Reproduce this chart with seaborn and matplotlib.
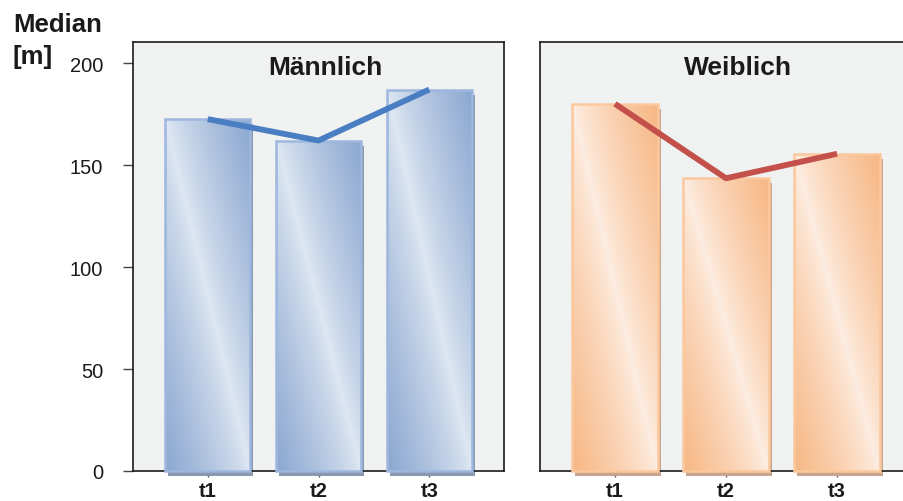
import numpy as np
import pandas as pd
import matplotlib
matplotlib.use("Agg")
import matplotlib.pyplot as plt
import matplotlib.transforms as mtransforms
from matplotlib.patches import Rectangle
import seaborn as sns

# Median distance per measurement time, split by sex
periods = ["t1", "t2", "t3"]
male_median = [172.5, 162, 187]
female_median = [180, 143.5, 155.5]
panel_titles = ["Männlich", "Weiblich"]
y_ticks = [0, 50, 100, 150, 200]

sns.set_theme(style="white")
plt.rcParams["font.family"] = ["Liberation Sans", "DejaVu Sans"]

W, H = 904, 502
fig = plt.figure(figsize=(W / 100, H / 100), dpi=100)
ax_m = fig.add_axes([133 / W, 30 / H, 371 / W, 429 / H])
ax_f = fig.add_axes([540 / W, 30 / H, 372 / W, 429 / H])

panels = [
    dict(ax=ax_m, values=male_median, title=panel_titles[0], title_x=1.06,
         light=(0.875, 0.910, 0.953), dark=(0.545, 0.655, 0.816),
         edge="#9db7de", shadow="#8a98ae", line="#4a7ec2"),
    dict(ax=ax_f, values=female_median, title=panel_titles[1], title_x=1.11,
         light=(0.992, 0.930, 0.885), dark=(0.969, 0.718, 0.518),
         edge="#fbc89d", shadow="#c9a48f", line="#c4504b"),
]


def gradient_bar(ax, patch, light, dark, edge, shadow):
    x0, y0 = patch.get_x(), patch.get_y()
    w, h = patch.get_width(), patch.get_height()
    # drop shadow offset a few pixels right and down
    shift = mtransforms.offset_copy(ax.transData, fig=fig, x=3, y=-5, units="dots")
    ax.add_patch(Rectangle((x0, y0), w, h, transform=shift, facecolor=shadow,
                           edgecolor="none", zorder=2.4, clip_on=False))
    # diagonal shading: light along the top-left/bottom-right diagonal
    ny, nx = 300, 80
    u = np.linspace(0, 1, nx)[None, :]
    v = np.linspace(0, 1, ny)[:, None]
    t = np.clip(np.abs(u - v) ** 0.8, 0, 1)
    light = np.array(light)[None, None, :]
    dark = np.array(dark)[None, None, :]
    img = light * (1 - t[..., None]) + dark * t[..., None]
    im = ax.imshow(img, extent=(x0, x0 + w, y0, y0 + h), origin="upper",
                   aspect="auto", interpolation="bilinear", zorder=3)
    im.set_clip_path(patch)
    patch.set_facecolor("none")
    patch.set_edgecolor(edge)
    patch.set_linewidth(1.8)
    patch.set_zorder(3.2)
    patch.set_clip_on(False)


for p in panels:
    ax = p["ax"]
    ax.set_facecolor("#f0f2f2")
    df = pd.DataFrame({"period": periods, "median": p["values"]})
    sns.barplot(data=df, x="period", y="median", ax=ax, width=0.77,
                color=p["light"], saturation=1, errorbar=None)
    for patch in list(ax.patches):
        gradient_bar(ax, patch, p["light"], p["dark"], p["edge"], p["shadow"])
    sns.lineplot(x=np.arange(len(periods)), y=p["values"], ax=ax,
                 color=p["line"], linewidth=4.2, solid_capstyle="butt",
                 zorder=5)
    ax.set_xlim(-0.675, 2.675)
    ax.set_ylim(0, 210.3)
    ax.set_xlabel("")
    ax.set_ylabel("")
    ax.set_xticks(range(len(periods)))
    ax.set_xticklabels(periods, fontsize=14.5, fontweight="bold")
    ax.tick_params(axis="x", bottom=True, length=4.5, width=1, color="#555555",
                   pad=2.5, labelcolor="#1a1a1a")
    for s in ax.spines.values():
        s.set_visible(True)
        s.set_color("#1a1a1a")
        s.set_linewidth(1.2)
    ax.text(p["title_x"], 0.925, p["title"], transform=ax.get_xaxis_transform(),
            ha="center", va="baseline", fontsize=19, fontweight="bold",
            color="#1a1a1a", zorder=6)

ax_m.set_yticks(y_ticks)
ax_m.set_yticklabels([str(v) for v in y_ticks], fontsize=14.5)
ax_m.tick_params(axis="y", left=True, length=7.5, width=1, color="#444444",
                 pad=14, labelcolor="#1a1a1a")
ax_f.set_yticks([])

fig.text(13 / W, 1 - 32 / H, "Median", fontsize=18.5, fontweight="bold",
         ha="left", va="baseline", color="#1a1a1a")
fig.text(13 / W, 1 - 64 / H, "[m]", fontsize=18.5, fontweight="bold",
         ha="left", va="baseline", color="#1a1a1a")

fig.savefig("out.png", dpi=100, facecolor="white")
